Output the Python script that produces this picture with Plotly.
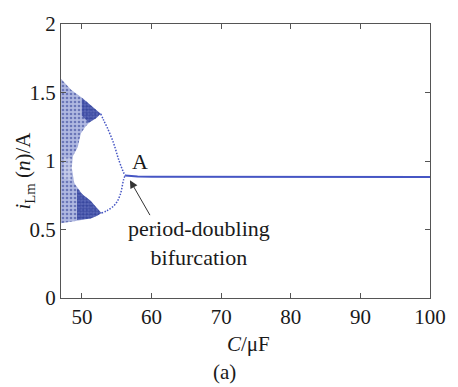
import plotly.graph_objects as go

# ---- data ----
# chaotic region outline (C in uF, i_Lm in A)
chaos_c = [47.0, 48.45, 50.3, 51.7, 52.7, 52.2, 51.25, 50.5, 49.85, 49.4, 48.7, 48.55,
           48.9, 50.1, 51.25, 52.0, 52.8, 52.2, 51.25, 48.9, 47.0]
chaos_i = [1.60, 1.52, 1.45, 1.39, 1.345, 1.32, 1.29, 1.25, 1.20, 1.10, 1.035, 0.95,
           0.84, 0.755, 0.71, 0.665, 0.62, 0.60, 0.58, 0.56, 0.545]
# denser parts near the band tips
dense_up_c = [50.0, 51.7, 52.7, 52.0, 51.0, 50.0]
dense_up_i = [1.46, 1.39, 1.345, 1.31, 1.28, 1.33]
dense_lo_c = [49.3, 50.1, 51.25, 52.0, 52.8, 52.2, 51.25, 49.3]
dense_lo_i = [0.80, 0.755, 0.71, 0.665, 0.62, 0.60, 0.58, 0.57]
# sparser middle part of the chaotic region
sparse_c = [47.4, 48.5, 48.6, 48.4, 47.4]
sparse_i = [1.03, 1.02, 0.93, 0.86, 0.87]
# period-2 branches
p2_up_c = [52.7, 53.1, 53.63, 54.57, 55.27, 55.97, 56.21]
p2_up_i = [1.345, 1.30, 1.245, 1.128, 1.012, 0.918, 0.895]
p2_lo_c = [52.8, 53.63, 54.81, 55.51, 55.97, 56.21]
p2_lo_i = [0.62, 0.638, 0.685, 0.755, 0.86, 0.895]
# period-1 line
p1_c = [56.21, 57.0, 58.0, 60.0, 70.0, 80.0, 90.0, 100.0]
p1_i = [0.895, 0.89, 0.887, 0.885, 0.884, 0.884, 0.884, 0.884]

x_ticks = [50, 60, 70, 80, 90, 100]
y_ticks = [0, 0.5, 1, 1.5, 2]
y_tick_text = ["0", "0.5", "1", "1.5", "2"]

DOT = "#26358f"
LINE = "#4656c4"
FONT = "Liberation Serif, Times New Roman, serif"
TXT = "#1a1a1a"

fig = go.Figure()


def patch(cc, ii, bg, size, solidity):
    fig.add_trace(go.Scatter(
        x=cc, y=ii, mode="lines", fill="toself",
        line=dict(width=0, color="rgba(0,0,0,0)"),
        fillcolor="rgba(0,0,0,0)",
        fillpattern=dict(shape=".", fgcolor=DOT, bgcolor=bg, size=size, solidity=solidity),
        hoverinfo="skip", showlegend=False))


patch(chaos_c, chaos_i, "rgba(110,125,200,0.55)", 4, 0.35)
patch(dense_up_c, dense_up_i, "rgba(60,75,170,0.7)", 3, 0.55)
patch(dense_lo_c, dense_lo_i, "rgba(60,75,170,0.7)", 3, 0.55)
fig.add_trace(go.Scatter(x=sparse_c, y=sparse_i, mode="lines", fill="toself",
                         line=dict(width=0, color="rgba(0,0,0,0)"),
                         fillcolor="rgba(255,255,255,0.25)",
                         hoverinfo="skip", showlegend=False))

for cc, ii in [(p2_up_c, p2_up_i), (p2_lo_c, p2_lo_i)]:
    fig.add_trace(go.Scatter(x=cc, y=ii, mode="lines",
                             line=dict(color=LINE, width=1.5, dash="1.5px,1.5px", shape="spline"),
                             hoverinfo="skip", showlegend=False))
fig.add_trace(go.Scatter(x=p1_c, y=p1_i, mode="lines",
                         line=dict(color=LINE, width=2),
                         hoverinfo="skip", showlegend=False))

axis_common = dict(showline=True, linecolor="#555555", linewidth=1, mirror="ticks",
                   ticks="inside", ticklen=5, tickcolor="#555555", showgrid=False,
                   zeroline=False, tickfont=dict(family=FONT, size=21, color=TXT))
fig.update_xaxes(range=[47, 100], tickvals=x_ticks, **axis_common)
fig.update_yaxes(range=[0, 2], tickvals=y_ticks, ticktext=y_tick_text, **axis_common)

W, H = 458, 387
L, R, T, B = 61, 19, 12, 89
pw, ph = W - L - R, H - T - B


def px(x):
    return (x - L) / pw


def py(y):
    return (H - B - y) / ph


def paper_text(text, x, y, angle=0):
    return dict(text=text, x=px(x), y=py(y), xref="paper", yref="paper",
                xanchor="center", yanchor="middle", textangle=angle, showarrow=False,
                font=dict(family=FONT, size=21, color=TXT))


ann = [
    paper_text("<i>i</i><sub>Lm</sub> (<i>n</i>)/A", 23, 165, -90),
    paper_text("<i>C</i>/μF", 253, 346),
    paper_text("(a)", 228, 375),
    dict(text="A", x=58.3, y=1.0, xref="x", yref="y", showarrow=False,
         xanchor="center", yanchor="middle",
         font=dict(family=FONT, size=22, color=TXT)),
    dict(text="period-doubling<br>bifurcation", x=66.8, y=0.40, xref="x", yref="y",
         showarrow=False, align="center", xanchor="center", yanchor="middle",
         font=dict(family=FONT, size=22, color=TXT)),
    dict(text="", x=56.9, y=0.86, ax=59.9, ay=0.594, xref="x", yref="y",
         axref="x", ayref="y", showarrow=True, arrowhead=2, arrowsize=1.6,
         arrowwidth=1, arrowcolor="#333333"),
]

fig.update_layout(width=W, height=H, margin=dict(l=L, r=R, t=T, b=B),
                  plot_bgcolor="white", paper_bgcolor="white", annotations=ann)

fig.write_html("out.html")
